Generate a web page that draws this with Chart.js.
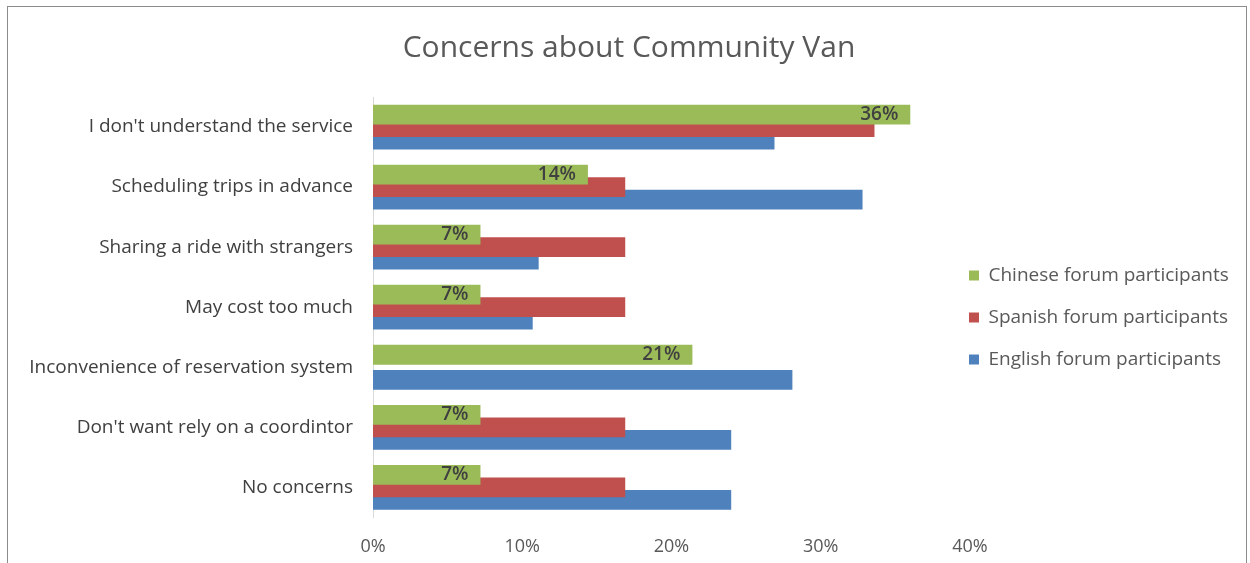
<!DOCTYPE html>
<html>
<head>
<meta charset="utf-8">
<script src="https://cdn.jsdelivr.net/npm/chart.js@4.4.1/dist/chart.umd.min.js"></script>
<style>
  body { margin: 0; background: #fff; overflow: hidden; }
  #frame { position: absolute; left: 7px; top: 6px; width: 1238px; height: 600px; border: 1px solid #8c8c8c; }
  #wrap { position: absolute; left: 0; top: 0; width: 1250px; height: 575px; }
</style>
</head>
<body>
<div id="frame"></div>
<div id="wrap"><canvas id="chart"></canvas></div>
<script>
var categories = [
  "I don't understand the service",
  "Scheduling trips in advance",
  "Sharing a ride with strangers",
  "May cost too much",
  "Inconvenience of reservation system",
  "Don't want rely on a coordintor",
  "No concerns"
];
var chinese = [36, 14.4, 7.2, 7.2, 21.4, 7.2, 7.2];
var spanish = [33.6, 16.9, 16.9, 16.9, 0, 16.9, 16.9];
var english = [26.9, 32.8, 11.1, 10.7, 28.1, 24.0, 24.0];
var xTicks = [0, 10, 20, 30, 40];

const fontFamily = "'Open Sans', sans-serif";

// labels on the green bars, placed just inside the bar end
const barLabels = {
  id: "barLabels",
  afterDatasetsDraw(chart) {
    const ctx = chart.ctx;
    const meta = chart.getDatasetMeta(0);
    ctx.save();
    ctx.font = "600 19px " + fontFamily;
    ctx.fillStyle = "#404040";
    ctx.textAlign = "right";
    ctx.textBaseline = "middle";
    meta.data.forEach(function (bar, i) {
      ctx.fillText(Math.round(chinese[i]) + "%", bar.x - 12, bar.y);
    });
    ctx.restore();
  }
};

// pull the legend's left edge in so the swatches sit right next to the plot
const legendShift = {
  id: "legendShift",
  afterLayout(chart) {
    chart.legend.left -= 24;
  }
};

let ctx = document.getElementById("chart").getContext("2d");

var chart = new Chart(ctx, {
  type: "bar",
  data: {
    labels: categories,
    datasets: [
      { label: "Chinese forum participants", data: chinese, backgroundColor: "#9BBB59" },
      { label: "Spanish forum participants", data: spanish, backgroundColor: "#C0504D" },
      { label: "English forum participants", data: english, backgroundColor: "#4F81BD" }
    ]
  },
  options: {
    indexAxis: "y",
    responsive: true,
    maintainAspectRatio: false,
    animation: false,
    categoryPercentage: 0.625,
    barPercentage: 1.58,
    layout: { padding: { left: 8, right: 0, top: 30, bottom: 6 } },
    scales: {
      x: {
        min: 0,
        max: 40,
        grid: { display: false },
        border: { display: false },
        afterBuildTicks: function (scale) {
          scale.ticks = xTicks.map(v => ({ value: v }));
        },
        ticks: {
          padding: 11,
          color: "#595959",
          font: { family: fontFamily, size: 18 },
          callback: v => v + "%"
        }
      },
      y: {
        grid: { display: false },
        border: { display: true, color: "#d9d9d9" },
        afterFit: function (scale) { scale.width = 365; },
        ticks: {
          padding: 12,
          color: "#404040",
          font: { family: fontFamily, size: 19 }
        }
      }
    },
    plugins: {
      title: {
        display: true,
        text: "Concerns about Community Van",
        color: "#595959",
        font: { family: fontFamily, size: 30, weight: "normal" },
        padding: { top: 0, bottom: 31 }
      },
      legend: {
        position: "right",
        maxWidth: 280,
        title: { display: true, text: " ", font: { size: 10 }, padding: 12 },
        labels: {
          boxWidth: 10,
          boxHeight: 10,
          padding: 23,
          color: "#595959",
          font: { family: fontFamily, size: 19 }
        }
      },
      tooltip: { enabled: false }
    }
  },
  plugins: [barLabels, legendShift]
});
</script>
</body>
</html>
